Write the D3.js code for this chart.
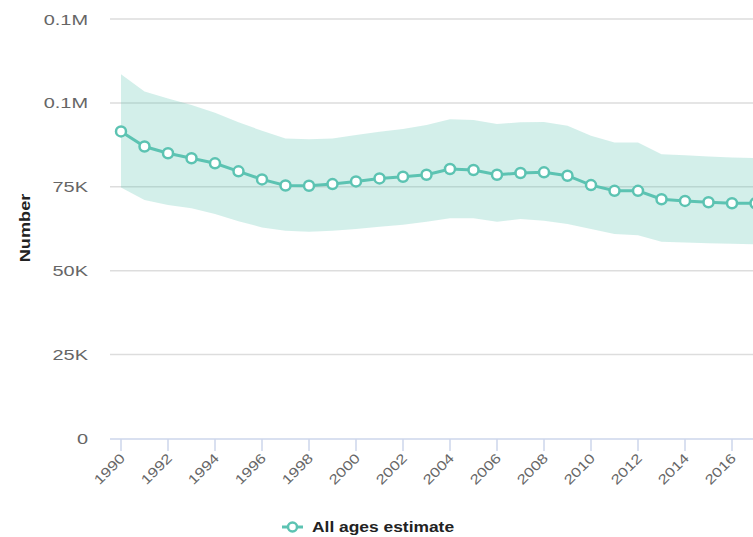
<!DOCTYPE html>
<html>
<head>
<meta charset="utf-8">
<script src="https://cdn.jsdelivr.net/npm/d3@7"></script>
<style>
  html, body { margin: 0; padding: 0; background: #fff; }
  svg { display: block; font-family: "Liberation Sans", Arial, sans-serif; }
</style>
</head>
<body>
<svg id="chart" width="753" height="537"></svg>
<script>
const years = d3.range(1990, 2018);
const estimate = [91.5, 87.0, 85.0, 83.5, 82.0, 79.6, 77.2, 75.4, 75.3, 75.8, 76.6, 77.5, 78.0, 78.6, 80.3, 80.0, 78.6, 79.1, 79.3, 78.3, 75.5, 73.8, 73.8, 71.3, 70.8, 70.4, 70.1, 70.1].map(v => v * 1000);
const upper = [108.5, 103.4, 101.3, 99.4, 97.1, 94.2, 91.7, 89.4, 89.2, 89.4, 90.4, 91.4, 92.2, 93.4, 95.1, 94.9, 93.7, 94.2, 94.3, 93.2, 90.2, 88.2, 88.2, 84.7, 84.4, 84.0, 83.7, 83.6].map(v => v * 1000);
const lower = [74.8, 71.1, 69.6, 68.6, 66.9, 64.7, 62.9, 61.9, 61.6, 61.9, 62.4, 63.1, 63.7, 64.6, 65.6, 65.6, 64.6, 65.4, 64.9, 63.9, 62.4, 60.9, 60.6, 58.6, 58.4, 58.2, 58.0, 57.9].map(v => v * 1000);
const yTicks = [0, 25000, 50000, 75000, 100000, 125000];
const yTickLabels = ["0", "25K", "50K", "75K", "0.1M", "0.1M"];
const xTicks = d3.range(1990, 2018, 2);
const seriesName = "All ages estimate";
const yTitle = "Number";

const teal = "#5cc3b2";
const svg = d3.select("#chart");
const x = d3.scaleLinear().domain([1990, 2017]).range([121, 755.5]);
const y = d3.scaleLinear().domain([0, 125000]).range([438.5, 19]);
const plotLeft = 110, plotRight = 753;
const data = years.map((yr, i) => ({ yr, v: estimate[i], hi: upper[i], lo: lower[i] }));

// gridlines
svg.append("g").selectAll("line").data(yTicks.slice(1)).join("line")
  .attr("x1", plotLeft).attr("x2", plotRight)
  .attr("y1", d => y(d)).attr("y2", d => y(d))
  .attr("stroke", "#dddddd").attr("stroke-width", 1.5);

// y labels
svg.append("g").selectAll("text").data(yTicks).join("text")
  .attr("transform", d => `translate(88,${y(d) + 5.5}) scale(1.33,1)`)
  .attr("text-anchor", "end")
  .attr("font-size", 15)
  .attr("fill", "#666666")
  .text((d, i) => yTickLabels[i]);

// y title
svg.append("text")
  .attr("transform", "translate(30,228) rotate(-90) scale(1.3,1)")
  .attr("text-anchor", "middle")
  .attr("font-size", 14)
  .attr("font-weight", "bold")
  .attr("fill", "#222")
  .text(yTitle);

// band
svg.append("path").datum(data)
  .attr("d", d3.area().x(d => x(d.yr)).y0(d => y(d.lo)).y1(d => y(d.hi)))
  .attr("fill", teal).attr("fill-opacity", 0.27);

// x axis
svg.append("line")
  .attr("x1", plotLeft).attr("x2", plotRight)
  .attr("y1", 439).attr("y2", 439)
  .attr("stroke", "#ccd6eb").attr("stroke-width", 1.5);
svg.append("g").selectAll("line").data(xTicks).join("line")
  .attr("x1", d => x(d)).attr("x2", d => x(d))
  .attr("y1", 439).attr("y2", 451)
  .attr("stroke", "#ccd6eb").attr("stroke-width", 1.5);
svg.append("g").selectAll("text").data(xTicks).join("text")
  .attr("transform", d => `translate(${x(d) + 5},${459}) rotate(-45) scale(1.25,1)`)
  .attr("text-anchor", "end")
  .attr("font-size", 13.5)
  .attr("fill", "#666666")
  .text(d => d);

// line
svg.append("path").datum(data)
  .attr("d", d3.line().x(d => x(d.yr)).y(d => y(d.v)))
  .attr("fill", "none").attr("stroke", teal).attr("stroke-width", 3);
svg.append("g").selectAll("circle").data(data).join("circle")
  .attr("cx", d => x(d.yr)).attr("cy", d => y(d.v)).attr("r", 5)
  .attr("fill", "#fff").attr("stroke", teal).attr("stroke-width", 2.5);

// legend
const lg = svg.append("g");
lg.append("line").attr("x1", 282).attr("x2", 303).attr("y1", 527).attr("y2", 527)
  .attr("stroke", teal).attr("stroke-width", 3);
lg.append("circle").attr("cx", 292.5).attr("cy", 527).attr("r", 4.5)
  .attr("fill", "#fff").attr("stroke", teal).attr("stroke-width", 2.5);
lg.append("text")
  .attr("transform", "translate(312,532) scale(1.16,1)")
  .attr("font-size", 15).attr("font-weight", "bold").attr("fill", "#222")
  .text(seriesName);
</script>
</body>
</html>
